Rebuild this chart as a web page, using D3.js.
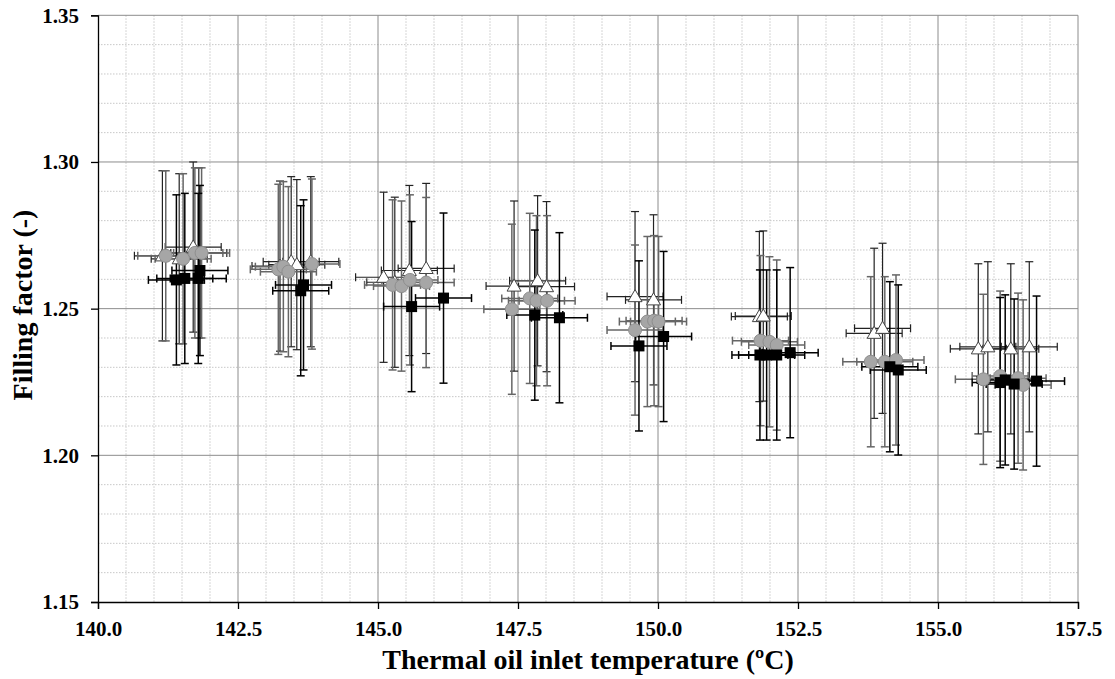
<!DOCTYPE html>
<html><head><meta charset="utf-8">
<script src="https://cdn.jsdelivr.net/npm/d3@7"></script>
<style>
body{margin:0;background:#fff}svg{display:block}
svg text{font-family:'Liberation Serif','Times New Roman',serif !important;font-weight:bold !important}
.axis text{font-size:21px !important;fill:#000 !important}
.ttl{font-size:28px !important}
</style>
</head><body>
<svg id="c" width="1115" height="679"></svg>
<script>
// Series 1: open triangles
const triT = [141.15,141.45,141.70,141.80, 143.25,143.45,143.55,143.80, 145.10,145.30,145.56,145.86, 147.43,147.85,148.01, 149.59,149.92, 151.81,151.88, 153.86,154.01, 155.72,155.89,156.30,156.63];
const triF = [1.268,1.267,1.271,1.269, 1.2645,1.266,1.265,1.266, 1.2607,1.259,1.2630,1.2637, 1.2577,1.2595,1.2575, 1.2541,1.2530, 1.2473,1.2475, 1.2416,1.2433, 1.2363,1.2370,1.2363,1.2370];
// Series 2: grey circles
const cirT = [141.21,141.52,141.73,141.85, 143.22,143.31,143.40,143.82, 145.26,145.42,145.57,145.86, 147.39,147.71,147.83,148.02, 149.59,149.81,149.93,150.01, 151.83,151.99,152.12, 153.80,154.05,154.25, 155.81,156.11,156.43,156.52];
const cirF = [1.268,1.267,1.269,1.269, 1.2634,1.2643,1.2626,1.2652, 1.2581,1.2577,1.2598,1.2589, 1.2498,1.2535,1.2527,1.2527, 1.2427,1.2456,1.2459,1.2456, 1.2391,1.2387,1.2376, 1.2319,1.2319,1.2325, 1.2259,1.2270,1.2263,1.2240];
// Series 3: black squares
const sqT = [141.40,141.55,141.79,141.82, 143.62,143.67, 145.60,146.17, 147.80,148.24, 149.66,150.10, 151.82,151.94,152.12,152.36, 154.14,154.29, 156.11,156.20,156.36,156.76];
const sqF = [1.2598,1.2603,1.2603,1.263, 1.2561,1.2581, 1.2507,1.2536, 1.2478,1.2469, 1.2373,1.2405, 1.2342,1.2342,1.2342,1.2350, 1.2302,1.2291, 1.2248,1.2257,1.2243,1.2253];
// Error half-widths
const xErr = 0.5;
const yErr = 0.029;
// Tick labels
const xTicks = [140.0,142.5,145.0,147.5,150.0,152.5,155.0,157.5];
const yTicks = [1.15,1.20,1.25,1.30,1.35];

const svg = d3.select("#c");
const L = 98, T = 15.3, W = 980, H = 586.7;
const x = d3.scaleLinear().domain([140,157.5]).range([L, L+W]);
const y = d3.scaleLinear().domain([1.15,1.35]).range([T+H, T]);

// minor grid
const g = svg.append("g");
g.selectAll(".mx").data(d3.range(140.5,157.5,0.5).filter(v=>Math.abs(v/2.5-Math.round(v/2.5))>1e-6))
  .join("line").attr("x1",d=>x(d)).attr("x2",d=>x(d)).attr("y1",T).attr("y2",T+H)
  .attr("stroke","#c8c8c8").attr("stroke-width",1).attr("stroke-dasharray","1.5,1.5");
g.selectAll(".my").data(d3.range(1.16,1.35,0.01).filter(v=>Math.abs(v/0.05-Math.round(v/0.05))>1e-4))
  .join("line").attr("x1",L).attr("x2",L+W).attr("y1",d=>y(d)).attr("y2",d=>y(d))
  .attr("stroke","#c8c8c8").attr("stroke-width",1).attr("stroke-dasharray","1.5,1.5");
// major grid
g.selectAll(".Mx").data(xTicks.slice(1)).join("line")
  .attr("x1",d=>x(d)).attr("x2",d=>x(d)).attr("y1",T).attr("y2",T+H)
  .attr("stroke","#8c8c8c").attr("stroke-width",1);
g.selectAll(".My").data(yTicks.slice(1)).join("line")
  .attr("x1",L).attr("x2",L+W).attr("y1",d=>y(d)).attr("y2",d=>y(d))
  .attr("stroke","#8c8c8c").attr("stroke-width",1);

// axes
const xa = svg.append("g").attr("class","axis").attr("transform",`translate(0,${T+H})`)
  .call(d3.axisBottom(x).tickValues(xTicks).tickFormat(d3.format(".1f")).tickSizeOuter(0).tickSize(7).tickPadding(12));
const ya = svg.append("g").attr("class","axis").attr("transform",`translate(${L},0)`)
  .call(d3.axisLeft(y).tickValues(yTicks).tickFormat(d3.format(".2f")).tickSizeOuter(0).tickSize(7).tickPadding(12));
[xa,ya].forEach(a=>{
  a.select(".domain").attr("stroke","#000").attr("stroke-width",1.3);
  a.selectAll(".tick line").attr("stroke","#000").attr("stroke-width",1.3);
});

// error bars
function errBars(T_, F_, color, sw) {
  const eb = svg.append("g").attr("stroke",color).attr("stroke-width",sw).attr("fill","none");
  const data = T_.map((t,i)=>({t, f:F_[i]}));
  const cap = 4;
  data.forEach(d=>{
    const cx = x(d.t), cy = y(d.f);
    const y1 = y(d.f+yErr), y2 = y(d.f-yErr), x1 = x(d.t-xErr), x2 = x(d.t+xErr);
    eb.append("line").attr("x1",cx).attr("x2",cx).attr("y1",y1).attr("y2",y2);
    eb.append("line").attr("x1",cx-cap).attr("x2",cx+cap).attr("y1",y1).attr("y2",y1);
    eb.append("line").attr("x1",cx-cap).attr("x2",cx+cap).attr("y1",y2).attr("y2",y2);
    eb.append("line").attr("x1",x1).attr("x2",x2).attr("y1",cy).attr("y2",cy);
    eb.append("line").attr("x1",x1).attr("x2",x1).attr("y1",cy-cap).attr("y2",cy+cap);
    eb.append("line").attr("x1",x2).attr("x2",x2).attr("y1",cy-cap).attr("y2",cy+cap);
  });
}
errBars(triT, triF, "#222", 1.2);
errBars(cirT, cirF, "#666", 1.5);
errBars(sqT, sqF, "#000", 1.5);

// markers
const tri = d3.symbol().type(d3.symbolTriangle).size(85);
svg.append("g").selectAll("path").data(triT.map((t,i)=>({t,f:triF[i]}))).join("path")
  .attr("d",tri).attr("transform",d=>`translate(${x(d.t)},${y(d.f)+1})`)
  .attr("fill","#fff").attr("stroke","#444").attr("stroke-width",1);
svg.append("g").selectAll("circle").data(cirT.map((t,i)=>({t,f:cirF[i]}))).join("circle")
  .attr("cx",d=>x(d.t)).attr("cy",d=>y(d.f)).attr("r",6.5)
  .attr("fill","#a6a6a6").attr("stroke","#8e8e8e").attr("stroke-width",1);
svg.append("g").selectAll("rect").data(sqT.map((t,i)=>({t,f:sqF[i]}))).join("rect")
  .attr("x",d=>x(d.t)-5.5).attr("y",d=>y(d.f)-5.5).attr("width",11).attr("height",11)
  .attr("fill","#000");

// titles
svg.append("text").attr("class","ttl").attr("x",588).attr("y",669).attr("text-anchor","middle")
  .text("Thermal oil inlet temperature (ºC)");
svg.append("text").attr("class","ttl").attr("transform",`translate(32,305) rotate(-90)`).attr("text-anchor","middle")
  .text("Filling factor (-)");
</script>
</body></html>
